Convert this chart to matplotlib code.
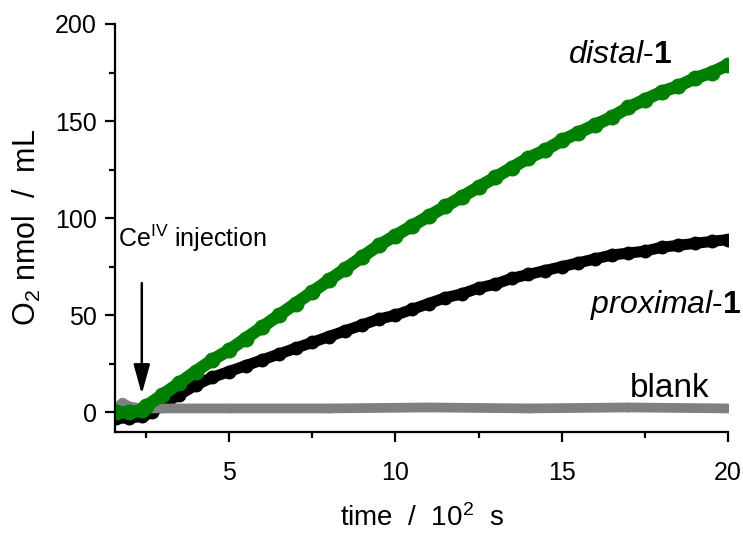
import numpy as np
from matplotlib import pyplot as plt

plt.rcParams['font.family'] = ['Liberation Sans', 'DejaVu Sans']
plt.rcParams['mathtext.fontset'] = 'custom'
plt.rcParams['mathtext.rm'] = 'Liberation Sans'
plt.rcParams['mathtext.it'] = 'Liberation Sans:italic'
plt.rcParams['mathtext.bf'] = 'Liberation Sans:bold'

# time in 10^2 s, O2 in nmol/mL
t_distal = [1.6, 2.0, 2.4, 2.5, 3.0, 3.5, 4.0, 4.5, 5.0, 5.5, 6.0, 6.5, 7.0, 7.5, 8.0, 8.5,
            9.0, 9.5, 10.0, 10.5, 11.0, 11.5, 12.0, 12.5, 13.0, 13.5, 14.0, 14.5, 15.0,
            15.5, 16.0, 16.5, 17.0, 17.5, 18.0, 18.5, 19.0, 19.5, 20.0]
o2_distal = [0, 0, 1, 3, 9, 15, 21, 27, 32, 38, 44, 50, 56, 62, 68, 74,
             80, 86, 91, 96, 101, 106, 111, 116, 121, 126, 131, 135, 140,
             144, 148, 152, 157, 161, 165, 168, 172, 175, 179]

t_prox = [1.6, 2.0, 2.4, 2.7, 3.0, 3.5, 4.0, 4.5, 5.0, 5.5, 6.0, 6.5, 7.0, 7.5, 8.0, 8.5,
          9.0, 9.5, 10.0, 10.5, 11.0, 11.5, 12.0, 12.5, 13.0, 13.5, 14.0, 14.5, 15.0,
          15.5, 16.0, 16.5, 17.0, 17.5, 18.0, 18.5, 19.0, 19.5, 20.0]
o2_prox = [-3, -3, -2, 0, 4, 9, 14, 18, 21, 24, 27, 30, 33, 36, 39, 42,
           45, 48, 50, 53, 56, 59, 61, 64, 66, 69, 71, 73, 75,
           77, 79, 81, 82, 83, 85, 86, 87, 88, 89]

t_blank = [1.6, 1.8, 2.0, 2.4, 3.0, 5.0, 8.0, 11.0, 14.0, 17.0, 20.0]
o2_blank = [2, 5, 3, 2, 2, 2, 2, 2.5, 2, 2.5, 2]

t_inject = 2.38

fig = plt.figure(figsize=(7.43, 5.33), dpi=100)
ax = fig.add_axes([0.155, 0.19, 0.825, 0.765])

ax.plot(t_prox, o2_prox, color='black', lw=8, marker='o', ms=9, solid_capstyle='round')
ax.plot(t_blank, o2_blank, color='#808080', lw=7, marker='o', ms=6, solid_capstyle='round')
ax.plot(t_distal, o2_distal, color='#008000', lw=9, marker='o', ms=10.5, solid_capstyle='round')

ax.set_xlim(1.58, 20)
ax.set_ylim(-10, 200)
ax.set_xticks([5, 10, 15, 20])
ax.set_xticks([2.5, 7.5, 12.5, 17.5], minor=True)
ax.set_yticks([0, 50, 100, 150, 200])
ax.set_yticks([25, 75, 125, 175], minor=True)
for s in ['top', 'right']:
    ax.spines[s].set_visible(False)
for s in ['left', 'bottom']:
    ax.spines[s].set_linewidth(1.6)
ax.tick_params(which='major', direction='out', length=7, width=1.6, labelsize=18)
ax.tick_params(which='minor', direction='out', length=4, width=1.6)
ax.tick_params(axis='x', which='major', pad=14)
ax.tick_params(axis='y', which='major', pad=6)

ax.set_xlabel('time  /  10$^2$  s', fontsize=20, labelpad=14)
ax.set_ylabel('O$_2$ nmol  /  mL', fontsize=22, labelpad=9)

ax.annotate('', xy=(t_inject, 8), xytext=(t_inject, 68),
            arrowprops=dict(arrowstyle='-|>,head_length=0.9,head_width=0.25',
                            color='black', lw=1.8, mutation_scale=20))
ax.text(1.68, 85, 'Ce$^{\\mathrm{IV}}$ injection', fontsize=18)

ax.text(15.2, 180, '$\\mathit{distal}$-$\\mathbf{1}$', fontsize=23)
ax.text(20.4, 51, '$\\mathit{proximal}$-$\\mathbf{1}$', fontsize=23, ha='right', clip_on=False)
ax.text(19.45, 8, 'blank', fontsize=24, ha='right')

fig.savefig('out.png', dpi=100)
